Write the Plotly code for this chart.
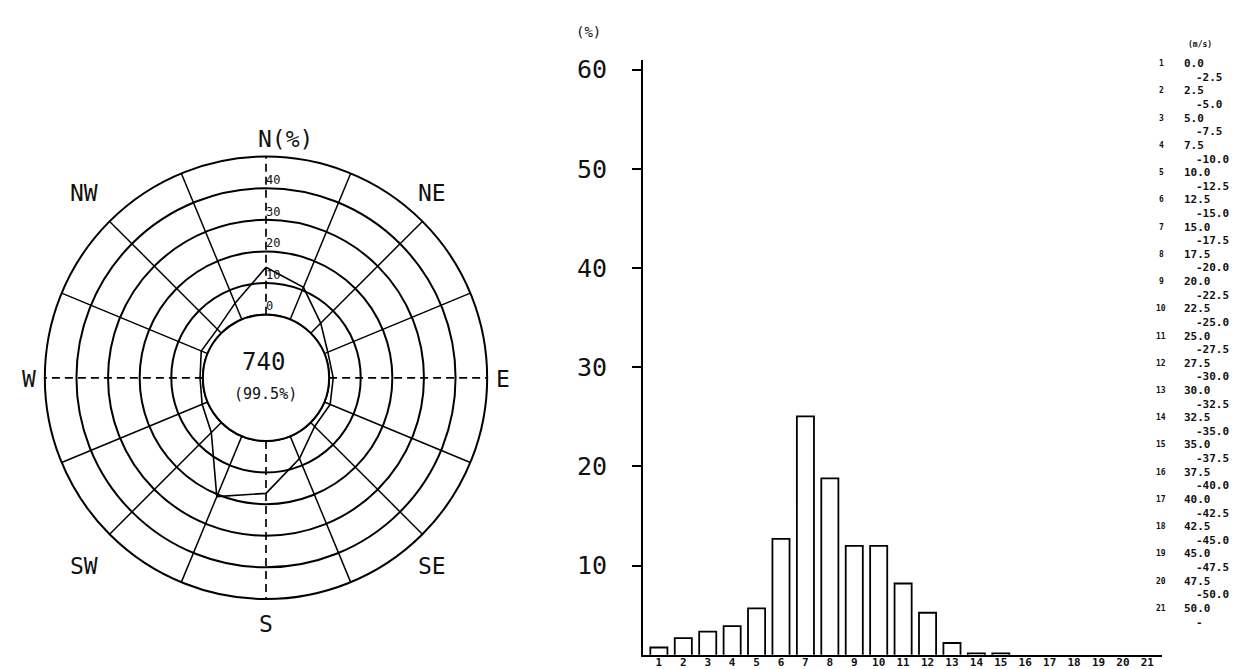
import plotly.graph_objects as go

# ---------------- data ----------------
dir_names = ["N", "NNE", "NE", "ENE", "E", "ESE", "SE", "SSE",
             "S", "SSW", "SW", "WSW", "W", "WNW", "NW", "NNW"]
dir_angles = [i * 22.5 for i in range(16)]
rose_pct = [15.0, 11.0, 4.5, 1.2, 1.3, 2.0, 1.8, 7.7,
            16.6, 20.7, 4.5, 1.9, 0.9, 2.2, 1.8, 5.6]
ring_values = [0, 10, 20, 30, 40]
ring_labels = ["0", "10", "20", "30", "40"]
compass_labels = ["N(%)", "NE", "E", "SE", "S", "SW", "W", "NW"]
total_count = "740"
valid_pct = "(99.5%)"

speed_class = list(range(1, 22))
freq_pct = [1.75, 2.7, 3.35, 3.9, 5.7, 12.7, 25.05, 18.8, 12.0, 12.0, 8.2,
            5.25, 2.2, 1.15, 1.15, 0.0, 0.0, 0.0, 0.0, 0.0, 0.0]
class_lower = ["0.0", "2.5", "5.0", "7.5", "10.0", "12.5", "15.0", "17.5",
               "20.0", "22.5", "25.0", "27.5", "30.0", "32.5", "35.0", "37.5",
               "40.0", "42.5", "45.0", "47.5", "50.0"]
class_upper = ["-2.5", "-5.0", "-7.5", "-10.0", "-12.5", "-15.0", "-17.5",
               "-20.0", "-22.5", "-25.0", "-27.5", "-30.0", "-32.5", "-35.0",
               "-37.5", "-40.0", "-42.5", "-45.0", "-47.5", "-50.0", "-"]
y_ticks = [10, 20, 30, 40, 50, 60]

# ---------------- layout helpers ----------------
W, H = 1241, 669
FONT = "DejaVu Sans Mono"
INK = "#111111"


def px(x):
    return x / W


def py(y):
    return (H - y) / H


def note(x, y, text, size, xanchor="center", bold=False):
    f = dict(family=FONT, size=size, color=INK)
    if bold:
        f["weight"] = "bold"
    fig.add_annotation(x=px(x), y=py(y), xref="paper", yref="paper", text=text,
                       showarrow=False, xanchor=xanchor, yanchor="middle", font=f)


fig = go.Figure()

# ---------------- wind rose (polar) ----------------
circ_theta = list(range(0, 361, 2))
fig.add_trace(go.Scatterpolar(r=[0] * len(circ_theta), theta=circ_theta, mode="lines",
                              line=dict(color="black", width=2), hoverinfo="skip",
                              showlegend=False, subplot="polar"))
sol_r, sol_t, dash_r, dash_t = [], [], [], []
for a in dir_angles:
    if a % 90 == 0:
        dash_r += [0, 50, None]
        dash_t += [a, a, None]
    else:
        sol_r += [0, 50, None]
        sol_t += [a, a, None]
fig.add_trace(go.Scatterpolar(r=sol_r, theta=sol_t, mode="lines",
                              line=dict(color="black", width=1.5), hoverinfo="skip",
                              showlegend=False, subplot="polar"))
fig.add_trace(go.Scatterpolar(r=dash_r, theta=dash_t, mode="lines",
                              line=dict(color="black", width=1.7, dash="8px,5px"),
                              hoverinfo="skip", showlegend=False, subplot="polar"))
fig.add_trace(go.Scatterpolar(r=rose_pct + rose_pct[:1], theta=dir_angles + dir_angles[:1],
                              mode="lines", line=dict(color="black", width=1.6),
                              showlegend=False, subplot="polar"))
fig.add_trace(go.Scatterpolar(r=[v + 2.3 for v in ring_values], theta=[0] * len(ring_values),
                              mode="text", text=ring_labels, textposition="middle right",
                              textfont=dict(family=FONT, size=12, color=INK),
                              showlegend=False, subplot="polar"))

CX, CY, R = 258.0, 368.0, 222.5
fig.update_layout(
    polar=dict(
        domain=dict(x=[px(CX - R), px(CX + R)], y=[py(CY + R), py(CY - R)]),
        hole=63.5 / R,
        bgcolor="white",
        radialaxis=dict(range=[0, 50], tickvals=[10, 20, 30, 40], showticklabels=False,
                        ticks="", showline=False, gridcolor="black", gridwidth=2),
        angularaxis=dict(rotation=90, direction="clockwise", showticklabels=False,
                         showgrid=False, showline=True, linecolor="black", linewidth=2,
                         ticks=""),
    )
)

# compass labels around the rose (offsets from the rose centre, px)
label_offsets = [(-10, -240), (166, -186), (237, 1), (166, 189),
                 (0, 248), (-182, 189), (-237, 1), (-182, -186)]
for lab, (dx, dy) in zip(compass_labels, label_offsets):
    note(CX + dx, CY + dy, lab, 23, xanchor="left" if lab.startswith("N(") else "center")

note(CX - 3, 352, total_count, 24)
note(CX - 1, 384, valid_pct, 15)

# ---------------- histogram ----------------
fig.add_trace(go.Bar(x=speed_class, y=freq_pct, width=0.7,
                     marker=dict(color="white", line=dict(color="black", width=1.8)),
                     showlegend=False, xaxis="x", yaxis="y"))

fig.update_layout(
    xaxis=dict(domain=[px(635), px(1154)], range=[0.35, 21.6], tickmode="array",
               tickvals=speed_class, ticktext=[str(c) for c in speed_class],
               showgrid=False, zeroline=False, showline=True, linecolor="black",
               linewidth=2, ticks="", ticklabelstandoff=-4,
               tickfont=dict(family=FONT, size=11, color=INK, weight="bold")),
    yaxis=dict(domain=[py(646.5), py(48)], range=[1.03, 61.0], tickmode="array",
               tickvals=y_ticks, ticktext=[str(v) for v in y_ticks],
               showgrid=False, zeroline=False, showline=True, linecolor="black",
               linewidth=2, ticks="outside", ticklen=9, tickwidth=1.5, tickcolor="black",
               ticklabelstandoff=20,
               tickfont=dict(family=FONT, size=25, color=INK)),
)

note(580, 20, "(%)", 14)

# ---------------- speed class legend ----------------
note(1192, 33, "(m/s)", 8, bold=True)
y0, step = 52.0, 27.4
for i, (lo, hi) in enumerate(zip(class_lower, class_upper)):
    yy = y0 + i * step
    note(1153, yy, str(speed_class[i]), 8, bold=True)
    note(1174, yy, lo, 11, xanchor="left", bold=True)
    note(1186, yy + step / 2, hi, 11, xanchor="left", bold=True)

fig.update_layout(width=W, height=H, margin=dict(l=0, r=0, t=0, b=0),
                  paper_bgcolor="white", plot_bgcolor="white", showlegend=False)

fig.write_html("out.html")
